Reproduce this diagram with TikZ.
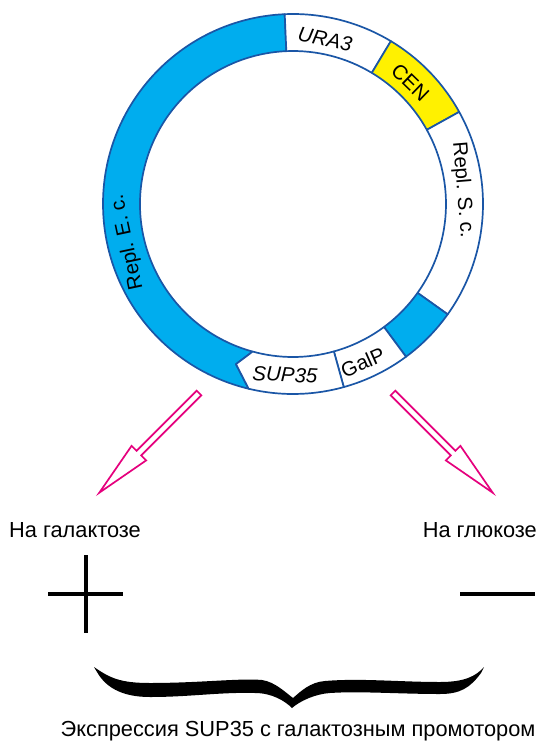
\documentclass[tikz,border=0pt]{standalone}
\usepackage{fontspec}
\setmainfont{Liberation Sans}
\definecolor{plasmid}{HTML}{00ADEE}
\definecolor{ringline}{HTML}{1A56A6}
\definecolor{cenyellow}{HTML}{FFF100}
\definecolor{arrowmag}{HTML}{E5007D}
\begin{document}
\begin{tikzpicture}[x=1pt,y=1pt,
  ring/.style={draw=ringline, line width=1.7pt, line join=round},
  seglabel/.style={font=\fontsize{20.5}{24}\selectfont, inner sep=0pt},
  caption/.style={font=\fontsize{21.8}{26}\selectfont, inner sep=0pt},
  sign/.style={line width=3.2pt},
  blockarrow/.style={draw=arrowmag, fill=white, line width=1.7pt, line join=miter},
  pics/hollowarrow/.style={code={
    \draw[blockarrow] (0,3.3) -- (85,3.3) -- (85,10.3) -- (141,0)
      -- (85,-10.3) -- (85,-3.3) -- (0,-3.3) -- cycle;}}]
\useasboundingbox (0,0) rectangle (544,-742);

% plasmid ring, centre of the ring
\begin{scope}[shift={(293,-204)}]
  % E. coli replication region, notched by the SUP35 arrow
  \filldraw[ring, fill=plasmid] (92.5:190) arc[start angle=92.5, end angle=256.5, radius=190pt]
    -- (250.4:170) -- (254.7:153) arc[start angle=254.7, end angle=92.5, radius=153pt] -- cycle;
  % URA3
  \filldraw[ring, fill=white] (59:190) arc[start angle=59, end angle=92.5, radius=190pt]
    -- (92.5:153) arc[start angle=92.5, end angle=59, radius=153pt] -- cycle;
  % CEN
  \filldraw[ring, fill=cenyellow] (29:190) arc[start angle=29, end angle=59, radius=190pt]
    -- (59:153) arc[start angle=59, end angle=29, radius=153pt] -- cycle;
  % S. cerevisiae replication region
  \filldraw[ring, fill=white] (-35.5:190) arc[start angle=-35.5, end angle=29, radius=190pt]
    -- (29:153) arc[start angle=29, end angle=-35.5, radius=153pt] -- cycle;
  % short blue block
  \filldraw[ring, fill=plasmid] (-53.5:190) arc[start angle=-53.5, end angle=-35.5, radius=190pt]
    -- (-35.5:153) arc[start angle=-35.5, end angle=-53.5, radius=153pt] -- cycle;
  % GalP
  \filldraw[ring, fill=white] (-74.5:190) arc[start angle=-74.5, end angle=-53.5, radius=190pt]
    -- (-53.5:153) arc[start angle=-53.5, end angle=-74.5, radius=153pt] -- cycle;
  % SUP35 gene arrow
  \filldraw[ring, fill=white] (-103.5:190) arc[start angle=-103.5, end angle=-74.5, radius=190pt]
    -- (-74.5:153) arc[start angle=-74.5, end angle=-105.3, radius=153pt] -- (-109.6:170) -- cycle;

  \node[seglabel, rotate=-11] (ura) at (79:168) {\itshape URA3};
  \node[seglabel, rotate=-44] (cen) at (46:169) {CEN};
  \node[seglabel, rotate=-85.3] (replsc) at (4.7:170) {Repl. S. c.};
  \node[seglabel, rotate=102] (replec) at (193:170) {Repl. E. c.};
  \node[seglabel, rotate=23.8] (galp) at (-66.2:173) {GalP};
  \node[seglabel, rotate=-2.7] (sup) at (-92.7:171) {\itshape SUP35};
\end{scope}

% two outcomes
\pic[rotate=-135] at (199,-393) {hollowarrow};
\pic[rotate=-45] at (393,-393) {hollowarrow};

\node[caption, anchor=west] (gal) at (9,-530) {На галактозе};
\node[caption, anchor=east] (glu) at (537,-530) {На глюкозе};

% plus and minus
\draw[sign] (48,-594) -- (123,-594);
\draw[sign] (86,-555) -- (86,-633);
\draw[sign] (460,-594) -- (535,-594);

% curly brace
\fill (94,-667) .. controls (110,-678) and (120,-683) .. (150,-683)
  .. controls (200,-683) and (240,-678) .. (262,-680)
  .. controls (275,-682) and (285,-692) .. (293,-698)
  .. controls (300,-692) and (310,-682) .. (325,-681)
  .. controls (360,-678) and (400,-682) .. (440,-682)
  .. controls (465,-682) and (476,-676) .. (484,-667)
  -- (481,-673)
  .. controls (470,-688) and (460,-694) .. (440,-694)
  .. controls (400,-694) and (360,-691) .. (330,-693)
  .. controls (315,-694) and (300,-701) .. (292,-708)
  .. controls (285,-701) and (272,-693) .. (255,-693)
  .. controls (220,-692) and (190,-697) .. (150,-697)
  .. controls (120,-697) and (105,-686) .. (97,-672) -- cycle;

\node[caption, anchor=base] (expr) at (298,-736) {Экспрессия SUP35 с галактозным промотором};
\end{tikzpicture}
\end{document}
